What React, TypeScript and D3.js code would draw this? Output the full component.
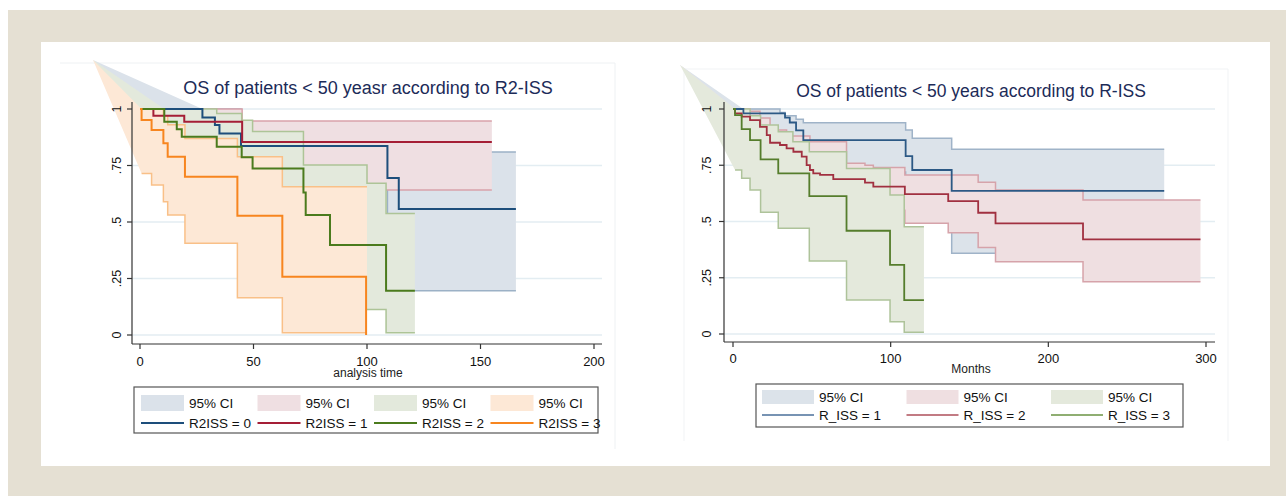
import React from "react";
import * as d3 from "d3";

type Pt = [number, number];

// ---- left panel: OS by R2-ISS (time, survival) ----
const r2iss0: Pt[] = [[0, 1], [27.5, 0.962], [33, 0.929], [35, 0.892], [44.5, 0.836], [109, 0.695], [114, 0.557], [165.6, 0.557]];
const r2iss0Hi: Pt[] = [[27.5, 1], [44.5, 0.94], [114, 0.81], [165.6, 0.81]];
const r2iss0Lo: Pt[] = [[27.5, 0.8], [33, 0.76], [35, 0.72], [44.5, 0.66], [109, 0.5], [114, 0.196], [165.6, 0.196]];

const r2iss1: Pt[] = [[0, 1], [5.9, 0.97], [19.5, 0.944], [45, 0.854], [155, 0.854]];
const r2iss1Hi: Pt[] = [[5.9, 1], [45, 0.947], [155, 0.947]];
const r2iss1Lo: Pt[] = [[5.9, 0.82], [19.5, 0.78], [45, 0.642], [155, 0.642]];

const r2iss2: Pt[] = [[0, 1], [10.7, 0.944], [16.2, 0.91], [18.4, 0.877], [33.8, 0.833], [44.8, 0.786], [49.6, 0.737], [72, 0.63], [73, 0.531], [83.7, 0.398], [108.4, 0.196], [121.1, 0.196]];
const r2iss2Hi: Pt[] = [[10.7, 1], [33.8, 0.98], [44.8, 0.95], [49.6, 0.9], [72, 0.752], [100, 0.671], [108.4, 0.538], [121.1, 0.538]];
const r2iss2Lo: Pt[] = [[10.7, 0.8], [16.2, 0.76], [18.4, 0.72], [33.8, 0.67], [44.8, 0.6], [49.6, 0.55], [72, 0.42], [73, 0.33], [83.7, 0.113], [108.4, 0.01], [121.1, 0.01]];

const r2iss3: Pt[] = [[0, 1], [0.7, 0.951], [5.1, 0.907], [10.3, 0.848], [12.2, 0.789], [19.8, 0.7], [42.9, 0.528], [62.7, 0.258], [99.6, 0]];
const r2iss3Hi: Pt[] = [[0.7, 1], [10.3, 0.97], [12.2, 0.93], [19.8, 0.87], [42.9, 0.789], [62.7, 0.656], [100, 0.656]];
const r2iss3Lo: Pt[] = [[0.7, 0.715], [5.1, 0.664], [10.3, 0.59], [12.2, 0.531], [19.8, 0.406], [42.9, 0.165], [62.7, 0.01], [100, 0.01]];

// ---- right panel: OS by R-ISS ----
const riss1: Pt[] = [[0, 1], [6.6, 0.981], [33, 0.962], [36, 0.94], [40, 0.905], [44.6, 0.862], [109.5, 0.791], [113.7, 0.729], [138.7, 0.636], [273.5, 0.636]];
const riss1Hi: Pt[] = [[6.6, 1], [29.8, 0.985], [33, 0.97], [40, 0.955], [44.6, 0.939], [109.5, 0.907], [113.7, 0.87], [138.7, 0.821], [273.5, 0.821]];
const riss1Lo: Pt[] = [[6.6, 0.88], [33, 0.85], [36, 0.8], [40, 0.76], [44.6, 0.72], [109.5, 0.62], [113.7, 0.55], [138.7, 0.359], [273.5, 0.359]];

const riss2: Pt[] = [[0, 1], [1.3, 0.981], [5.5, 0.966], [10.8, 0.951], [17.1, 0.921], [21.4, 0.884], [23.5, 0.85], [29.8, 0.84], [34, 0.825], [38.3, 0.81], [43.6, 0.788], [46.7, 0.751], [48.8, 0.729], [50.9, 0.714], [55.2, 0.707], [63.6, 0.688], [83.7, 0.673], [89, 0.655], [109, 0.622], [136.5, 0.591], [155.5, 0.539], [166.5, 0.492], [222, 0.421], [296.5, 0.421]];
const riss2Hi: Pt[] = [[1.3, 1], [10.8, 0.99], [17.1, 0.96], [23.5, 0.907], [34, 0.88], [48.8, 0.855], [72, 0.759], [83.7, 0.75], [89, 0.74], [109, 0.707], [155.5, 0.674], [166.5, 0.64], [222, 0.596], [296.5, 0.596]];
const riss2Lo: Pt[] = [[1.3, 0.94], [5.5, 0.92], [10.8, 0.9], [17.1, 0.86], [21.4, 0.82], [23.5, 0.78], [34, 0.75], [43.6, 0.71], [46.7, 0.67], [50.9, 0.64], [63.6, 0.6], [89, 0.55], [109, 0.492], [136.5, 0.45], [155.5, 0.385], [166.5, 0.321], [222, 0.232], [296.5, 0.232]];

const riss3: Pt[] = [[0, 1], [1.3, 0.973], [5.5, 0.911], [10.8, 0.862], [17.5, 0.776], [28.7, 0.714], [48.4, 0.613], [72, 0.459], [99.6, 0.307], [108.6, 0.151], [121.1, 0.151]];
const riss3Hi: Pt[] = [[1.3, 1], [10.8, 0.97], [17.5, 0.929], [28.7, 0.899], [38, 0.855], [48.4, 0.81], [72, 0.736], [99.6, 0.618], [108.6, 0.477], [121.1, 0.477]];
const riss3Lo: Pt[] = [[1.3, 0.729], [5.5, 0.692], [10.8, 0.64], [17.5, 0.541], [28.7, 0.47], [48.4, 0.324], [72, 0.151], [99.6, 0.055], [108.6, 0.008], [121.1, 0.008]];

// the CI polygons in the source image all fan out from one stray vertex
const leftStray: Pt = [-20.7, 1.217];
const rightStray: Pt = [-33.6, 1.196];

const yTicks = [0, 0.25, 0.5, 0.75, 1];
const yTickLabels = ["0", ".25", ".5", ".75", "1"];
const leftXTicks = [0, 50, 100, 150, 200];
const rightXTicks = [0, 100, 200, 300];
const leftLabels = ["R2ISS = 0", "R2ISS = 1", "R2ISS = 2", "R2ISS = 3"];
const rightLabels = ["R_ISS = 1", "R_ISS = 2", "R_ISS = 3"];

const FONT = "'Liberation Sans', Arial, sans-serif";

const expand = (pts: Pt[]): Pt[] => {
  const out: Pt[] = [];
  pts.forEach((p, i) => {
    if (i > 0) out.push([p[0], pts[i - 1][1]]);
    out.push(p);
  });
  return out;
};

type Series = { line: Pt[]; hi: Pt[]; lo: Pt[]; stroke: string; fill: string; edge: string; legendLine: string };

function Panel({ series, xDomain, xRange, yRange, xTicks, xAxisEnd, yAxisX, xAxisY, stray, title, titleX, titleY, titleSize, xLabel, xLabelY, yLabelX, xTickY, lineW, labels, legend }: any) {
  const x = d3.scaleLinear().domain(xDomain).range(xRange);
  const y = d3.scaleLinear().domain([0, 1]).range(yRange);
  const step = d3.line<Pt>().x(d => x(d[0])).y(d => y(d[1])).curve(d3.curveStepAfter);
  const poly = d3.line<Pt>().x(d => x(d[0])).y(d => y(d[1]));

  return (
    <g>
      {/* grid */}
      {yTicks.map(t => (
        <line key={"g" + t} x1={yAxisX} x2={xAxisEnd} y1={y(t)} y2={y(t)} stroke="#e3edf2" strokeWidth={1.5} />
      ))}
      {/* CI areas then their edges, one group at a time */}
      {series.map((s: Series, i: number) => {
        const ring = [stray, ...expand(s.hi), ...expand(s.lo).reverse()];
        return (
          <g key={"ci" + i}>
            <path d={poly(ring) + "Z"} fill={s.fill} stroke="none" />
            <path d={step(s.hi) || ""} fill="none" stroke={s.edge} strokeWidth={1.5} />
            <path d={step(s.lo) || ""} fill="none" stroke={s.edge} strokeWidth={1.5} />
          </g>
        );
      })}
      {series.map((s: Series, i: number) => (
        <path key={"l" + i} d={step(s.line) || ""} fill="none" stroke={s.stroke} strokeWidth={lineW} />
      ))}
      {/* axes */}
      <line x1={yAxisX} x2={yAxisX} y1={y(1) - 7} y2={xAxisY} stroke="#333" strokeWidth={1.2} />
      <line x1={yAxisX} x2={xAxisEnd} y1={xAxisY} y2={xAxisY} stroke="#333" strokeWidth={1.2} />
      {yTicks.map((t, i) => (
        <g key={"yt" + t}>
          <line x1={yAxisX - 5} x2={yAxisX} y1={y(t)} y2={y(t)} stroke="#333" strokeWidth={1.2} />
          <text transform={`translate(${yLabelX},${y(t)}) rotate(-90)`} textAnchor="middle" dy="0.35em" fontSize={12.5} fontFamily={FONT} fill="#111">
            {yTickLabels[i]}
          </text>
        </g>
      ))}
      {xTicks.map((t: number) => (
        <g key={"xt" + t}>
          <line x1={x(t)} x2={x(t)} y1={xAxisY} y2={xAxisY + 5} stroke="#333" strokeWidth={1.2} />
          <text x={x(t)} y={xTickY} textAnchor="middle" dy="0.35em" fontSize={13} fontFamily={FONT} fill="#111">
            {t}
          </text>
        </g>
      ))}
      <text x={titleX} y={titleY} textAnchor="middle" fontSize={titleSize} fontFamily={FONT} fill="#1c2b58">
        {title}
      </text>
      <text x={titleX} y={xLabelY} textAnchor="middle" fontSize={12} fontFamily={FONT} fill="#222">
        {xLabel}
      </text>
      {/* legend */}
      <rect x={legend.x} y={legend.y} width={legend.w} height={legend.h} fill="white" stroke="#555" strokeWidth={1.2} />
      {series.map((s: Series, i: number) => {
        const lx = legend.x + legend.pad + i * legend.col;
        return (
          <g key={"lg" + i}>
            <rect x={lx} y={legend.row1 - legend.sw / 2} width={legend.sl} height={legend.sw} fill={s.fill} />
            <text x={lx + legend.sl + 5} y={legend.row1} dy="0.35em" fontSize={13.5} fontFamily={FONT} fill="#111">95% CI</text>
            <line x1={lx} x2={lx + legend.sl} y1={legend.row2} y2={legend.row2} stroke={s.legendLine} strokeWidth={1.8} />
            <text x={lx + legend.sl + 5} y={legend.row2} dy="0.35em" fontSize={13.5} fontFamily={FONT} fill="#111">{labels[i]}</text>
          </g>
        );
      })}
    </g>
  );
}

export default function App() {
  const leftSeries: Series[] = [
    { line: r2iss0, hi: r2iss0Hi, lo: r2iss0Lo, stroke: "#1d4e7b", fill: "#dbe2ea", edge: "#9cb1c6", legendLine: "#1d4e7b" },
    { line: r2iss1, hi: r2iss1Hi, lo: r2iss1Lo, stroke: "#a51e36", fill: "#efdfe2", edge: "#d9a2aa", legendLine: "#a51e36" },
    { line: r2iss2, hi: r2iss2Hi, lo: r2iss2Lo, stroke: "#4b7b1d", fill: "#e3e9dc", edge: "#adc497", legendLine: "#4b7b1d" },
    { line: r2iss3, hi: r2iss3Hi, lo: r2iss3Lo, stroke: "#f7851f", fill: "#fde8d6", edge: "#f9c088", legendLine: "#f7851f" },
  ];
  const rightSeries: Series[] = [
    { line: riss1, hi: riss1Hi, lo: riss1Lo, stroke: "#2c5985", fill: "#dce3ea", edge: "#9fb3c8", legendLine: "#7793b3" },
    { line: riss2, hi: riss2Hi, lo: riss2Lo, stroke: "#a13040", fill: "#efdfe1", edge: "#d6a3aa", legendLine: "#c27b83" },
    { line: riss3, hi: riss3Hi, lo: riss3Lo, stroke: "#557d2c", fill: "#e4e9dc", edge: "#aec39a", legendLine: "#8fae72" },
  ];

  return (
    <svg width={1286} height={496} style={{ position: "absolute", left: 0, top: 0 }}>
      <rect x={0} y={0} width={1286} height={496} fill="white" />
      <rect x={8} y={10} width={1278} height={486} fill="#e5e0d3" />
      <rect x={41} y={42} width={1229} height={424} fill="white" />
      {/* faint panel outlines (top and right edges only show) */}
      <path d="M60,63H615V449" fill="none" stroke="#eef1f3" />
      <path d="M684,441V69H1228V441" fill="none" stroke="#f1f3f5" />

      <Panel
        series={leftSeries} xDomain={[0, 200]} xRange={[140, 594]} yRange={[335, 109]}
        xTicks={leftXTicks} xAxisEnd={602} yAxisX={132} xAxisY={344} stray={leftStray}
        title="OS of patients < 50 yeasr according to R2-ISS" titleX={368} titleY={94} titleSize={18}
        xLabel="analysis time" xLabelY={377} yLabelX={117} xTickY={361} lineW={2}
        labels={leftLabels}
        legend={{ x: 134, y: 387, w: 464, h: 46, pad: 7, col: 116.5, sl: 43, sw: 16, row1: 403, row2: 423 }}
      />
      <Panel
        series={rightSeries} xDomain={[0, 300]} xRange={[733, 1206]} yRange={[334, 109]}
        xTicks={rightXTicks} xAxisEnd={1215} yAxisX={724} xAxisY={342} stray={rightStray}
        title="OS of patients < 50 years according to R-ISS" titleX={971} titleY={97} titleSize={17.5}
        xLabel="Months" xLabelY={373} yLabelX={707} xTickY={358} lineW={1.8}
        labels={rightLabels}
        legend={{ x: 756, y: 384, w: 427, h: 43, pad: 6, col: 144.5, sl: 52, sw: 14, row1: 397, row2: 415 }}
      />
    </svg>
  );
}
